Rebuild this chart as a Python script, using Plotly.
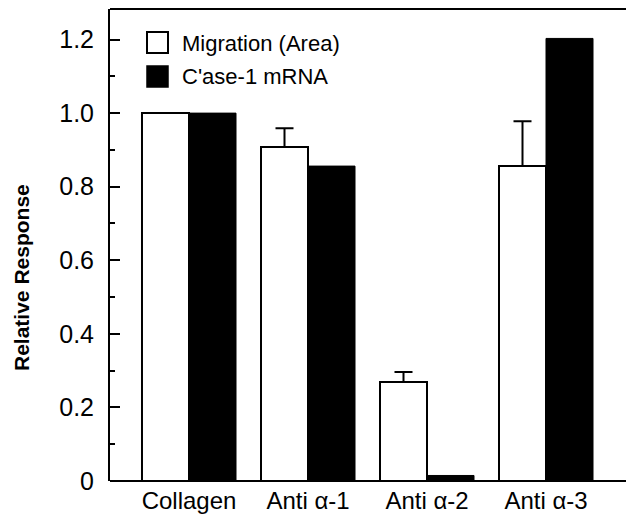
import plotly.graph_objects as go

categories = ["Collagen", "Anti α-1", "Anti α-2", "Anti α-3"]
migration = [1.0, 0.908, 0.269, 0.856]
migration_err = [0.0, 0.051, 0.027, 0.122]
mrna = [1.0, 0.856, 0.015, 1.203]
series_names = ["Migration (Area)", "C'ase-1 mRNA"]
y_ticks = [0, 0.2, 0.4, 0.6, 0.8, 1.0, 1.2]
y_tick_text = ["0", "0.2", "0.4", "0.6", "0.8", "1.0", "1.2"]

W, H = 626, 524
# plot-area edges in pixels
L, R, T, B = 110, 618, 9, 481
FONT = "Liberation Sans, Arial, Helvetica, sans-serif"

def px(x):
    return (x - L) / (R - L)

def py(y):
    return (B - y) / (B - T)

fig = go.Figure()
fig.add_trace(go.Bar(
    x=categories, y=migration, name=series_names[0],
    marker=dict(color="white", line=dict(color="black", width=2)),
    error_y=dict(type="data", array=migration_err, arrayminus=[0]*4,
                 symmetric=False, color="black", thickness=2, width=9),
    showlegend=False,
))
fig.add_trace(go.Bar(
    x=categories, y=mrna, name=series_names[1],
    marker=dict(color="black", line=dict(color="black", width=1)),
    showlegend=False,
))

shapes = [
    # top and bottom frame lines running to the right edge of the page
    dict(type="line", xref="paper", yref="paper", x0=0, x1=px(W + 2), y0=1, y1=1,
         line=dict(color="black", width=2)),
    dict(type="line", xref="paper", yref="paper", x0=0, x1=px(W + 2), y0=0, y1=0,
         line=dict(color="black", width=2)),
    dict(type="rect", xref="paper", yref="paper",
         x0=px(147), x1=px(168), y0=py(53), y1=py(32),
         fillcolor="white", line=dict(color="black", width=2)),
    dict(type="rect", xref="paper", yref="paper",
         x0=px(147), x1=px(168), y0=py(87), y1=py(66),
         fillcolor="black", line=dict(color="black", width=1.5)),
]
annotations = [
    dict(text=series_names[0], xref="paper", yref="paper", x=px(180), y=py(43),
         xanchor="left", yanchor="middle", showarrow=False,
         font=dict(family=FONT, size=22, color="black")),
    dict(text=series_names[1], xref="paper", yref="paper", x=px(180), y=py(77),
         xanchor="left", yanchor="middle", showarrow=False,
         font=dict(family=FONT, size=22, color="black")),
    dict(text="<b>Relative Response</b>", xref="paper", yref="paper",
         x=px(22), y=py(278), xanchor="center", yanchor="middle",
         textangle=-90, showarrow=False,
         font=dict(family=FONT, size=21, color="black")),
]

# x range so that category centres land at the reference pixel positions
unit = 119.0
x0 = (L - 189) / unit
x1 = (R - 189) / unit

fig.update_layout(
    width=W, height=H,
    margin=dict(l=L, r=W - R, t=T, b=H - B, pad=0),
    paper_bgcolor="white", plot_bgcolor="white",
    barmode="group", bargap=0.21, bargroupgap=0,
    shapes=shapes, annotations=annotations,
    font=dict(family=FONT, color="black"),
)
fig.update_xaxes(
    range=[x0, x1], showgrid=False, zeroline=False,
    showline=False, mirror=False,
    ticks="", tickfont=dict(family=FONT, size=24, color="black"),
    ticklabelstandoff=3,
)
fig.update_yaxes(
    range=[0, 1.283], showgrid=False, zeroline=False,
    showline=True, linecolor="black", linewidth=2, mirror=False,
    tickvals=y_ticks, ticktext=y_tick_text,
    ticks="inside", ticklen=10, tickwidth=2, tickcolor="black",
    minor=dict(dtick=0.1, ticks="inside", ticklen=5, tickwidth=2, tickcolor="black"),
    tickfont=dict(family=FONT, size=25, color="black"),
    ticklabelstandoff=9,
)

fig.write_html(
    "out.html",
    config={"displayModeBar": False},
    post_script="document.body.style.margin='0';"
                "document.body.style.overflow='hidden';"
                "document.documentElement.style.overflow='hidden';",
)
